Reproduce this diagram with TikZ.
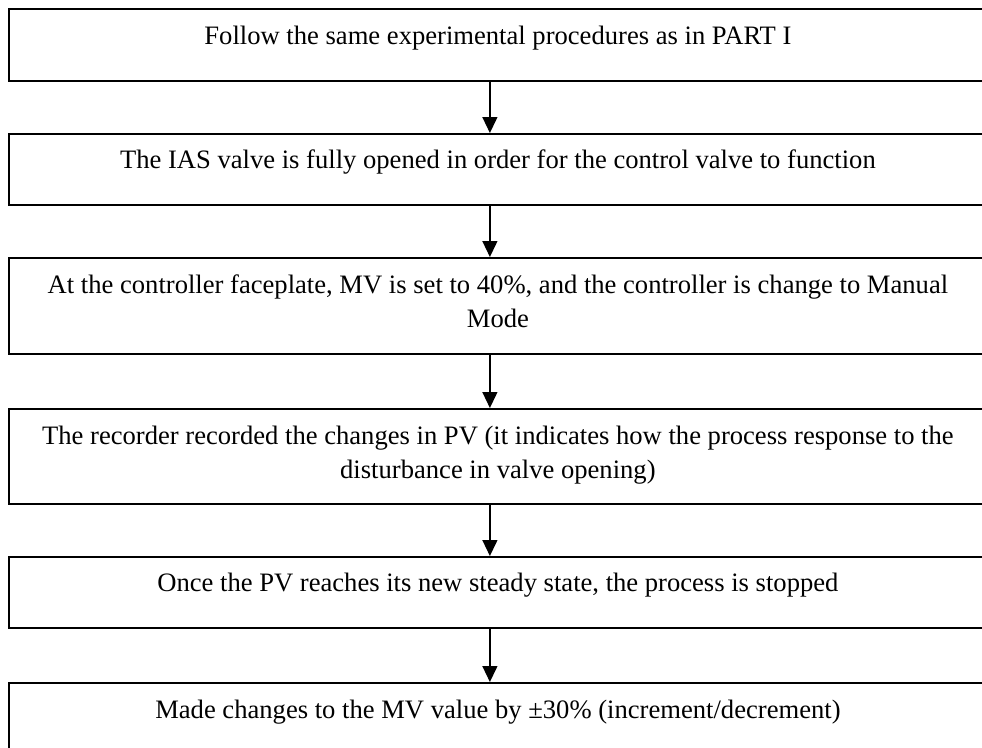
\documentclass[tikz,border=0pt]{standalone}
\usepackage{fontspec}
\setmainfont{Liberation Serif}
\usetikzlibrary{arrows.meta,calc}
\begin{document}
\begin{tikzpicture}[x=1pt,y=-1pt,
 stepbox/.style={draw,line width=1.8pt,rectangle,minimum width=978pt,anchor=north west,inner sep=0pt},
 steptext/.style={anchor=base,font=\fontsize{26.6}{34}\selectfont,align=center,inner sep=0pt},
 flow/.style={-{Triangle[length=16pt,width=15pt]},line width=1.3pt}]
\useasboundingbox (0,0) rectangle (982,747);
\node[stepbox,minimum height=72pt] (b1) at (8,8) {};
\node[stepbox,minimum height=71pt] (b2) at (8,133) {};
\node[stepbox,minimum height=96pt] (b3) at (8,257) {};
\node[stepbox,minimum height=95pt] (b4) at (8,408) {};
\node[stepbox,minimum height=71pt] (b5) at (8,556) {};
\node[stepbox,minimum height=80pt] (b6) at (8,682) {};
\node[steptext] (t1) at ($(b1.north)+(0,36)$) {Follow the same experimental procedures as in PART I};
\node[steptext] (t2) at ($(b2.north)+(0,35)$) {The IAS valve is fully opened in order for the control valve to function};
\node[steptext] (t3) at ($(b3.north)+(0,70)$) {At the controller faceplate, MV is set to 40\%, and the controller is change to Manual\\Mode};
\node[steptext] (t4) at ($(b4.north)+(0,70)$) {The recorder recorded the changes in PV (it indicates how the process response to the\\disturbance in valve opening)};
\node[steptext] (t5) at ($(b5.north)+(0,35)$) {Once the PV reaches its new steady state, the process is stopped};
\node[steptext] (t6) at ($(b6.north)+(0,36)$) {Made changes to the MV value by ±30\% (increment/decrement)};
\foreach \a/\b in {b1/b2,b2/b3,b3/b4,b4/b5,b5/b6}
  \draw[flow] ($(\a.south)+(-8,0)$) -- ($(\b.north)+(-8,0)$);
\end{tikzpicture}
\end{document}
